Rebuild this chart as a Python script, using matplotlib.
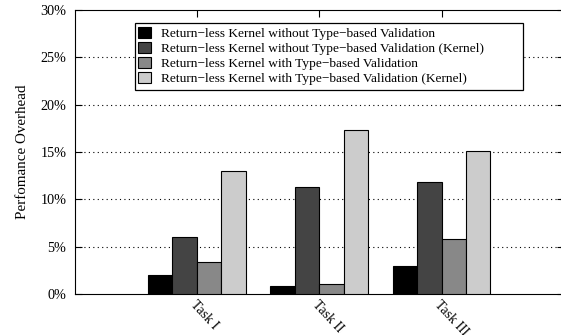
import numpy as np
import matplotlib.pyplot as plt
from matplotlib.patches import Rectangle

plt.rcParams['font.family'] = ['Liberation Serif', 'DejaVu Serif']

tasks = ['Task I', 'Task II', 'Task III']
series = [
    'Return\u2212less Kernel without Type\u2212based Validation',
    'Return\u2212less Kernel without Type\u2212based Validation (Kernel)',
    'Return\u2212less Kernel with Type\u2212based Validation',
    'Return\u2212less Kernel with Type\u2212based Validation (Kernel)',
]
no_tv = [2.0, 0.85, 3.0]
no_tv_kernel = [6.0, 11.3, 11.8]
tv = [3.4, 1.05, 5.8]
tv_kernel = [13.0, 17.3, 15.1]
colors = ['#000000', '#444444', '#888888', '#cccccc']

fig = plt.figure(figsize=(5.61, 3.35), dpi=100)
ax = fig.add_axes([0.133, 0.122, 0.872, 0.848])

x = np.arange(1, len(tasks) + 1)
w = 0.2
for i, vals in enumerate([no_tv, no_tv_kernel, tv, tv_kernel]):
    ax.bar(x - 0.3 + i * w, vals, w, color=colors[i], edgecolor='black',
           linewidth=0.8, label=series[i], zorder=3)

ax.set_xlim(0, 4)
ax.set_ylim(0, 30)
ax.set_yticks(range(0, 31, 5))
ax.set_yticklabels([f'{v}%' for v in range(0, 31, 5)], fontsize=10.2)
ax.set_xticks(x)
ax.set_xticklabels(tasks, rotation=-47, ha='left', va='top', fontsize=10,
                   rotation_mode='anchor')
ax.tick_params(direction='in', top=True, right=True, length=5)
ax.tick_params(axis='x', pad=3)
ax.tick_params(axis='y', pad=6)
for v in range(5, 30, 5):
    ax.axhline(v, color='black', linestyle=(0, (1, 3)), linewidth=0.8, zorder=1)
ax.set_ylabel('Perfomance Overhead', fontsize=10.8, labelpad=8)

# legend box is wider than its text, like the original
ax.add_patch(Rectangle((0.1235, 0.718), 0.793, 0.235, transform=ax.transAxes,
                       facecolor='white', edgecolor='black', linewidth=0.9,
                       zorder=4))
leg = ax.legend(loc='upper left', bbox_to_anchor=(0.1235, 0.953), fontsize=9.6,
                frameon=False, handlelength=0.95, handleheight=0.95,
                borderpad=0.25, labelspacing=0.12, handletextpad=0.75,
                borderaxespad=0)
leg.set_zorder(5)

fig.savefig('out.png', dpi=100)
